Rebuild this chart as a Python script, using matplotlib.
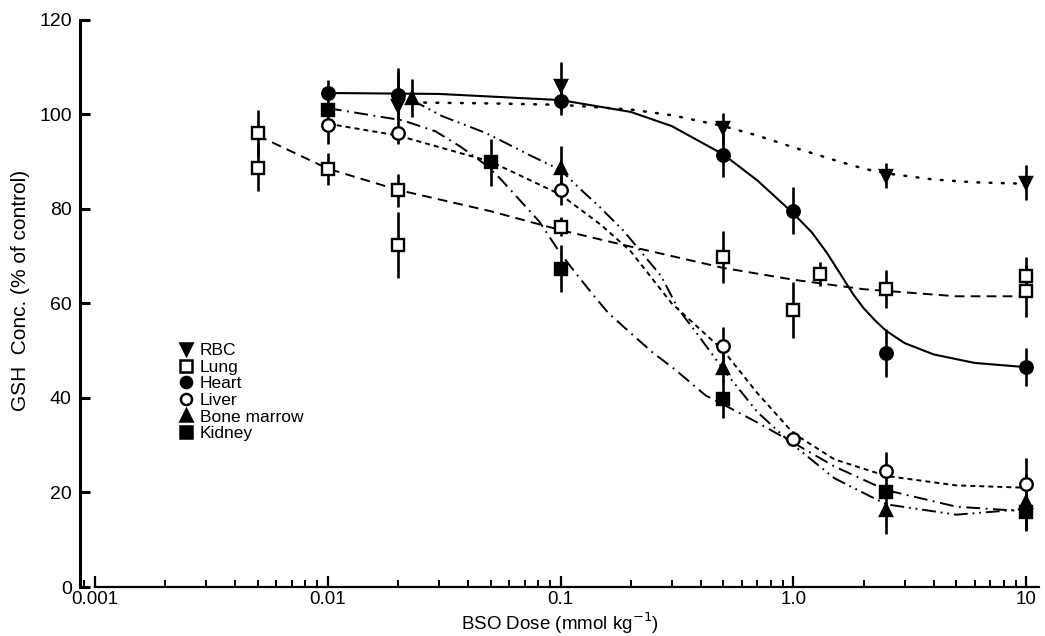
import numpy as np
import matplotlib.pyplot as plt
from matplotlib.lines import Line2D
from matplotlib.ticker import LogLocator, NullFormatter, FixedLocator, FixedFormatter

plt.rcParams['font.family'] = ['Liberation Sans', 'DejaVu Sans']
plt.rcParams['lines.scale_dashes'] = False

# measured points (dose mmol/kg, % of control, error)
rbc_x = [0.02, 0.1, 0.5, 2.5, 10]
rbc_y = [101.7, 106, 97, 87, 85.5]
rbc_e = [8, 5, 3.2, 2.7, 3.7]

lung_x = [0.005, 0.005, 0.01, 0.02, 0.02, 0.1, 0.5, 1.0, 1.3, 2.5, 10, 10]
lung_y = [96, 88.7, 88.5, 83.9, 72.4, 76.2, 69.8, 58.6, 66.2, 63, 65.8, 62.6]
lung_e = [5, 5, 3.4, 3.5, 7, 2, 5.5, 6, 2.5, 4, 4, 5.5]

heart_x = [0.01, 0.02, 0.1, 0.5, 1.0, 2.5, 10]
heart_y = [104.5, 104, 102.8, 91.3, 79.6, 49.5, 46.5]
heart_e = [2.7, 5, 3, 4.5, 5, 5, 4]

liver_x = [0.01, 0.02, 0.1, 0.5, 1.0, 2.5, 10]
liver_y = [97.7, 96, 83.9, 51, 31.4, 24.6, 21.7]
liver_e = [4, 1, 3, 4, 1.5, 4, 5.5]

marrow_x = [0.023, 0.1, 0.5, 2.5, 10]
marrow_y = [103.4, 88.7, 46.3, 16.3, 18]
marrow_e = [4, 4.6, 3, 5, 6]

kidney_x = [0.01, 0.05, 0.1, 0.5, 2.5, 10]
kidney_y = [101, 89.8, 67.3, 39.7, 20.2, 15.9]
kidney_e = [1.5, 4.9, 5, 4, 1.5, 4]

# fitted curves
rbc_cx = [0.023, 0.05, 0.1, 0.2, 0.3, 0.5, 0.7, 1.0, 1.5, 2.0, 2.5, 4.0, 6.0, 10]
rbc_cy = [102.5, 102.3, 102, 101, 99.8, 97.5, 95.5, 93, 90.3, 88.5, 87.5, 86.2, 85.6, 85.3]

lung_cx = [0.005, 0.01, 0.02, 0.05, 0.1, 0.2, 0.5, 1.0, 2.0, 5.0, 10]
lung_cy = [95.5, 88.5, 84, 79.5, 75.5, 72, 67.5, 65, 63, 61.5, 61.5]

heart_cx = [0.01, 0.03, 0.1, 0.2, 0.3, 0.5, 0.7, 1.0, 1.2, 1.4, 1.6, 1.8, 2.0, 2.25, 2.5, 3.0, 4.0, 6.0, 10]
heart_cy = [104.5, 104.3, 103, 100.5, 97.5, 91.5, 86, 79, 75, 70.5, 66, 62, 59, 56.3, 54.2, 51.6, 49.2, 47.4, 46.5]

liver_cx = [0.01, 0.02, 0.05, 0.1, 0.15, 0.2, 0.3, 0.5, 0.7, 1.0, 1.5, 2.5, 5.0, 10]
liver_cy = [98, 95.5, 90, 83, 76.5, 71, 60, 50, 41, 32.5, 27, 23.5, 21.5, 21]

marrow_cx = [0.023, 0.031, 0.048, 0.074, 0.1, 0.125, 0.145, 0.186, 0.27, 0.32, 0.38, 0.5, 0.7, 1.0, 1.5, 2.5, 5.0, 10]
marrow_cy = [103, 99.6, 96, 91.3, 88.2, 83.6, 80.7, 75.4, 65.8, 58.8, 54, 46, 37, 30, 23, 17.5, 15.3, 16.5]

kidney_cx = [0.01, 0.021, 0.029, 0.037, 0.048, 0.055, 0.081, 0.1, 0.12, 0.139, 0.16, 0.2, 0.25, 0.31, 0.42, 0.5, 0.7, 1.0, 1.5, 2.5, 5.0, 10]
kidney_cy = [101.3, 98.7, 96.4, 93.2, 89.2, 86.4, 77.3, 70.5, 65.5, 61.6, 58, 53.7, 49.5, 46, 40.5, 38.6, 34.8, 30.5, 25.5, 20.5, 17, 16]

fig = plt.figure(figsize=(10.45, 6.36), dpi=100)
ax = fig.add_axes([0.0766, 0.077, 0.918, 0.892])

lw = 1.4
ax.plot(rbc_cx, rbc_cy, color='black', lw=1.8, linestyle=(0, (1.3, 7.5)), dash_capstyle='round')
ax.plot(lung_cx, lung_cy, color='black', lw=lw, linestyle=(0, (7, 4.5)))
ax.plot(heart_cx, heart_cy, color='black', lw=1.5, linestyle='-')
ax.plot(liver_cx, liver_cy, color='black', lw=lw, linestyle=(0, (3.6, 2.9)))
ax.plot(marrow_cx, marrow_cy, color='black', lw=lw, linestyle=(0, (10, 3.5, 1.3, 3.5, 1.3, 3.5)))
ax.plot(kidney_cx, kidney_cy, color='black', lw=lw, linestyle=(0, (10, 4, 1.3, 4)))

ms = 9
series = [
    (rbc_x, rbc_y, rbc_e, 'v', 'black', 'RBC'),
    (lung_x, lung_y, lung_e, 's', 'white', 'Lung'),
    (heart_x, heart_y, heart_e, 'o', 'black', 'Heart'),
    (liver_x, liver_y, liver_e, 'o', 'white', 'Liver'),
    (marrow_x, marrow_y, marrow_e, '^', 'black', 'Bone marrow'),
    (kidney_x, kidney_y, kidney_e, 's', 'black', 'Kidney'),
]
handles = []
for x, y, e, m, fc, name in series:
    ax.errorbar(x, y, yerr=e, fmt='none', ecolor='black', elinewidth=1.9, capsize=0, zorder=3)
    ax.plot(x, y, linestyle='none', marker=m, markersize=ms, markerfacecolor=fc,
            markeredgecolor='black', markeredgewidth=1.7, zorder=4)
    handles.append(Line2D([], [], linestyle='none', marker=m, markersize=8,
                          markerfacecolor=fc, markeredgecolor='black', markeredgewidth=1.8, label=name))

ax.set_xscale('log')
ax.set_xlim(10 ** -3.064, 10 ** 1.056)
ax.set_ylim(0, 120)

ax.spines['top'].set_visible(False)
ax.spines['right'].set_visible(False)
ax.spines['left'].set_linewidth(2.2)
ax.spines['bottom'].set_linewidth(1.6)
ax.spines['left'].set_bounds(0, 120)
ax.spines['bottom'].set_bounds(1e-3, 10 ** 1.056)

ax.xaxis.set_major_locator(FixedLocator([0.001, 0.01, 0.1, 1.0, 10]))
ax.xaxis.set_major_formatter(FixedFormatter(['0.001', '0.01', '0.1', '1.0', '10']))
ax.xaxis.set_minor_locator(LogLocator(base=10, subs=np.arange(2, 10)))
ax.xaxis.set_minor_formatter(NullFormatter())
ax.set_yticks([0, 20, 40, 60, 80, 100, 120])

ax.tick_params(axis='x', which='major', direction='in', length=8, width=1.6, labelsize=13.5, pad=3)
ax.tick_params(axis='x', which='minor', direction='in', length=5, width=1.4)
ax.tick_params(axis='y', direction='in', length=7, width=2.2, labelsize=14, pad=6)

ax.set_xlabel('BSO Dose (mmol kg$^{-1}$)', fontsize=13.5)
ax.xaxis.set_label_coords(0.5, -0.042)
ax.set_ylabel('GSH  Conc. (% of control)', fontsize=15)
ax.yaxis.set_label_coords(-0.052, 0.522)

ax.legend(handles=handles, loc='upper left', bbox_to_anchor=(0.092, 0.445), frameon=False,
          fontsize=12.5, handletextpad=0.3, labelspacing=0.08, handlelength=1.0, borderpad=0)

plt.savefig('out.png', dpi=100)
